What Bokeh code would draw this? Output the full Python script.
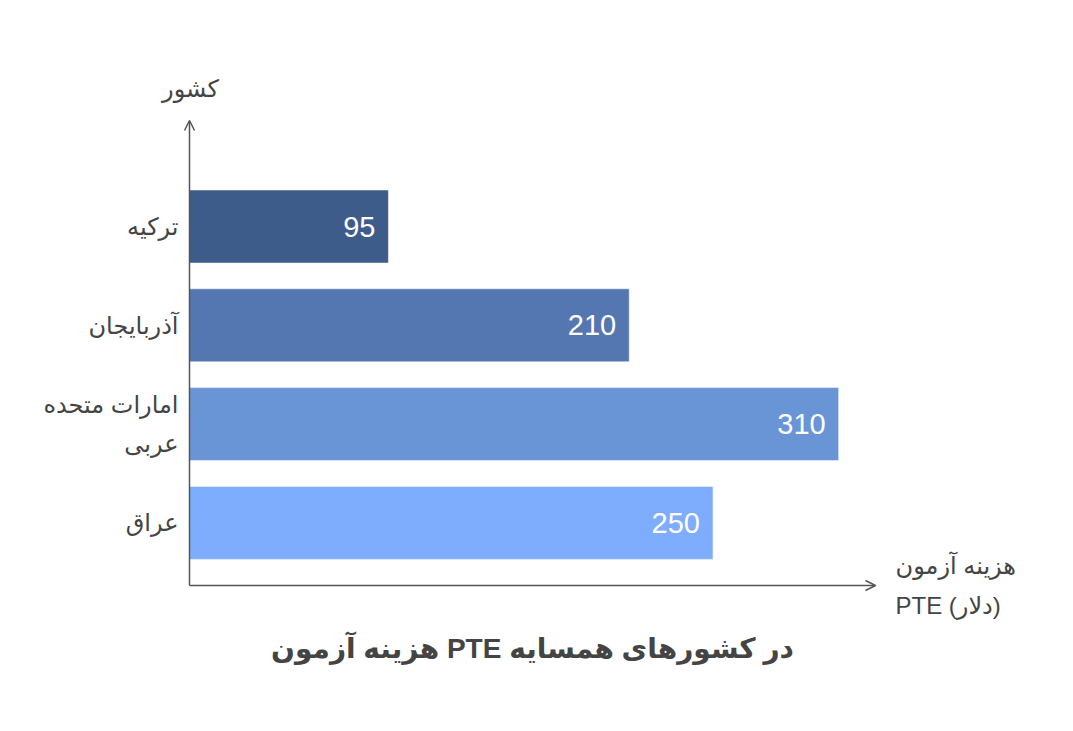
from bokeh.plotting import figure
from bokeh.models import Range1d, ColumnDataSource, Arrow, OpenHead
from bokeh.embed import file_html
from bokeh.resources import INLINE

# ---- data ----
categories = ["ترکیه", "آذربایجان", "امارات متحده\nعربی", "عراق"]
costs = [95, 210, 310, 250]
bar_colors = ["#3e5c8a", "#5577b1", "#6994d6", "#7eadfd"]
title_text = "هزینه آزمون PTE در کشورهای همسایه"
x_label = "هزینه آزمون\nPTE (دلار)"
y_label = "کشور"

# ---- layout (pixels) ----
W, H = 1057, 715
ORIGIN_X = 189          # canvas px of value 0
PX_PER_UNIT = 2.094     # px per dollar
ROW0_Y = 226            # canvas px of first row centre
ROW_PX = 98.8           # px between rows
AXIS_Y_PX = 585
X_ARROW_PX = 875
Y_ARROW_PX = 120

def dx(px):
    return (px - ORIGIN_X) / PX_PER_UNIT

def dy(px):
    return (px - ROW0_Y) / ROW_PX

FONT = "Liberation Sans, Arial, DejaVu Sans, sans-serif"
TXT = "#444444"
AX = "#555555"

p = figure(width=W, height=H, output_backend="svg", toolbar_location=None,
           x_range=Range1d(dx(0), dx(W)), y_range=Range1d(dy(H), dy(0)),
           x_axis_location=None, y_axis_location=None, min_border=0)
p.grid.visible = False
p.outline_line_color = None
p.background_fill_color = "white"

idx = list(range(len(categories)))
src = ColumnDataSource(dict(y=idx, cost=costs, color=bar_colors, cat=categories,
                            lab=[str(c) for c in costs]))

p.hbar(y="y", left=0, right="cost", height=73 / ROW_PX, fill_color="color",
       line_color="white", line_alpha=0.5, line_width=1, source=src)

p.text(x="cost", y="y", text="lab", source=src, x_offset=-13, text_align="right",
       text_baseline="middle", text_color="white", text_font_size="29px",
       text_font={"value": FONT})

p.text(x=0, y="y", text="cat", source=src, x_offset=-11, text_align="right",
       text_baseline="middle", text_color=TXT, text_font_size="24px",
       text_line_height=1.45, text_font={"value": FONT})

axis_y = dy(AXIS_Y_PX)
p.add_layout(Arrow(end=OpenHead(size=10, line_color=AX, line_width=1.5),
                   x_start=0, y_start=axis_y, x_end=dx(X_ARROW_PX), y_end=axis_y,
                   line_color=AX, line_width=1.5))
p.add_layout(Arrow(end=OpenHead(size=10, line_color=AX, line_width=1.5),
                   x_start=0, y_start=axis_y, x_end=0, y_end=dy(Y_ARROW_PX),
                   line_color=AX, line_width=1.5))

p.text(x=[dx(190)], y=[dy(88)], text=[y_label], text_align="center", text_baseline="middle",
       text_color=TXT, text_font_size="24px", text_font={"value": FONT})

p.text(x=[dx(X_ARROW_PX)], y=[axis_y], text=[x_label], x_offset=20, text_align="left",
       text_baseline="middle", text_color=TXT, text_font_size="24px",
       text_line_height=1.5, text_font={"value": FONT})

p.text(x=[dx(532)], y=[dy(648)], text=[title_text], text_align="center",
       text_baseline="middle", text_color=TXT, text_font_size="28px",
       text_font_style="bold", text_font={"value": FONT})

open("out.html", "w").write(file_html(p, INLINE))
